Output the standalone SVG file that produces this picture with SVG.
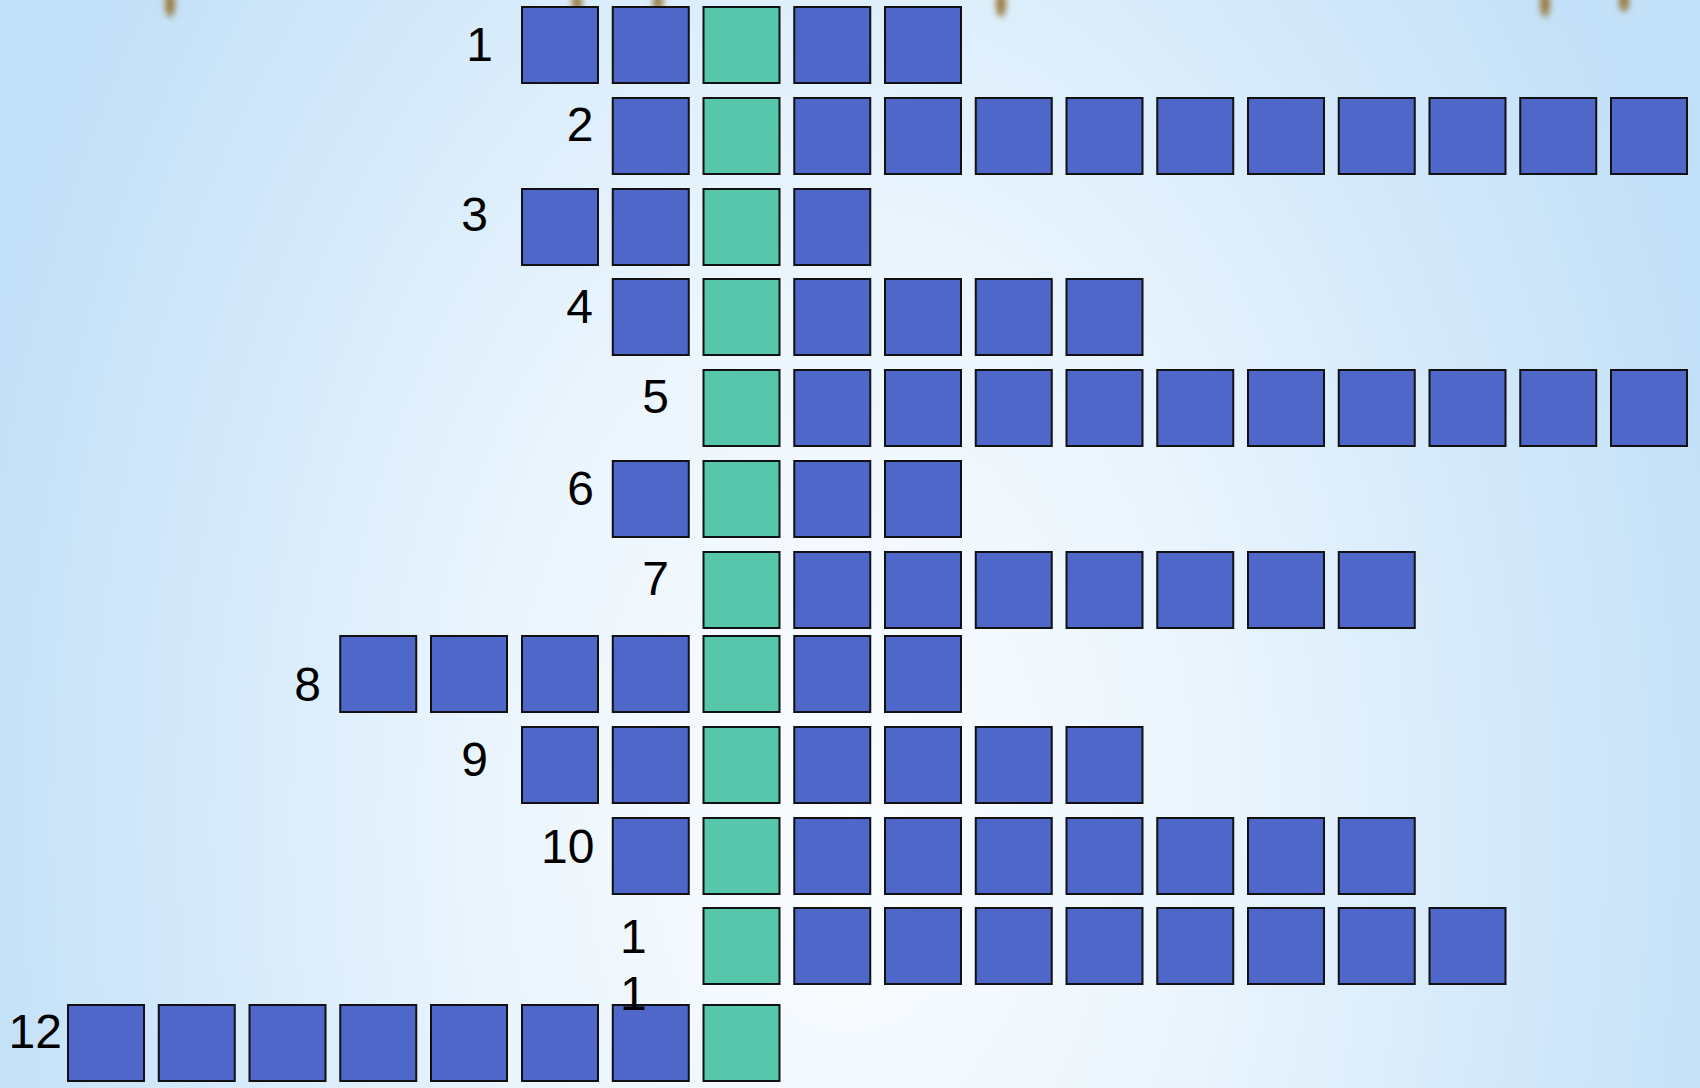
<svg xmlns="http://www.w3.org/2000/svg" width="1700" height="1088" viewBox="0 0 1700 1088">
<defs>
<radialGradient id="bg" cx="0" cy="0" r="1" gradientUnits="userSpaceOnUse" gradientTransform="translate(850 820) scale(900 1400)">
<stop offset="0" stop-color="#fbfdff"/>
<stop offset="0.4" stop-color="#ebf5fd"/>
<stop offset="1" stop-color="#c2e0f8"/>
</radialGradient>
<filter id="blur" x="-1" y="-1" width="3" height="3"><feGaussianBlur stdDeviation="3"/></filter>
<style>
.c{fill:#4f67c9;stroke:#111;stroke-width:2}
.g{fill:#56c7aa;stroke:#111;stroke-width:2}
.lb{font-family:"Liberation Sans",Arial,sans-serif;font-size:48px;fill:#000}
.m{fill:#9a7a3c;filter:url(#blur)}
</style>
</defs>
<rect width="1700" height="1088" fill="url(#bg)"/>
<g id="decor">
<ellipse class="m" cx="170" cy="4" rx="5" ry="13"/>
<ellipse class="m" cx="577" cy="2" rx="5" ry="10"/>
<ellipse class="m" cx="658" cy="2" rx="5" ry="10"/>
<ellipse class="m" cx="1001" cy="4" rx="5" ry="13"/>
<ellipse class="m" cx="1545" cy="4" rx="5" ry="13"/>
<ellipse class="m" cx="1624" cy="2" rx="5" ry="10"/>
</g>
<g id="connectors"/>
<g id="row1">
<rect class="c" x="522" y="7" width="76" height="76"/><rect class="c" x="612.75" y="7" width="76" height="76"/><rect class="g" x="703.5" y="7" width="76" height="76"/><rect class="c" x="794.25" y="7" width="76" height="76"/><rect class="c" x="885" y="7" width="76" height="76"/>
<text class="lb" x="493" y="61" text-anchor="end">1</text>
</g>
<g id="row2">
<rect class="c" x="612.75" y="98" width="76" height="76"/><rect class="g" x="703.5" y="98" width="76" height="76"/><rect class="c" x="794.25" y="98" width="76" height="76"/><rect class="c" x="885" y="98" width="76" height="76"/><rect class="c" x="975.75" y="98" width="76" height="76"/><rect class="c" x="1066.5" y="98" width="76" height="76"/><rect class="c" x="1157.25" y="98" width="76" height="76"/><rect class="c" x="1248" y="98" width="76" height="76"/><rect class="c" x="1338.75" y="98" width="76" height="76"/><rect class="c" x="1429.5" y="98" width="76" height="76"/><rect class="c" x="1520.25" y="98" width="76" height="76"/><rect class="c" x="1611" y="98" width="76" height="76"/>
<text class="lb" x="593.5" y="141" text-anchor="end">2</text>
</g>
<g id="row3">
<rect class="c" x="522" y="189" width="76" height="76"/><rect class="c" x="612.75" y="189" width="76" height="76"/><rect class="g" x="703.5" y="189" width="76" height="76"/><rect class="c" x="794.25" y="189" width="76" height="76"/>
<text class="lb" x="488" y="231" text-anchor="end">3</text>
</g>
<g id="row4">
<rect class="c" x="612.75" y="279" width="76" height="76"/><rect class="g" x="703.5" y="279" width="76" height="76"/><rect class="c" x="794.25" y="279" width="76" height="76"/><rect class="c" x="885" y="279" width="76" height="76"/><rect class="c" x="975.75" y="279" width="76" height="76"/><rect class="c" x="1066.5" y="279" width="76" height="76"/>
<text class="lb" x="593" y="323" text-anchor="end">4</text>
</g>
<g id="row5">
<rect class="g" x="703.5" y="370" width="76" height="76"/><rect class="c" x="794.25" y="370" width="76" height="76"/><rect class="c" x="885" y="370" width="76" height="76"/><rect class="c" x="975.75" y="370" width="76" height="76"/><rect class="c" x="1066.5" y="370" width="76" height="76"/><rect class="c" x="1157.25" y="370" width="76" height="76"/><rect class="c" x="1248" y="370" width="76" height="76"/><rect class="c" x="1338.75" y="370" width="76" height="76"/><rect class="c" x="1429.5" y="370" width="76" height="76"/><rect class="c" x="1520.25" y="370" width="76" height="76"/><rect class="c" x="1611" y="370" width="76" height="76"/>
<text class="lb" x="669" y="413" text-anchor="end">5</text>
</g>
<g id="row6">
<rect class="c" x="612.75" y="461" width="76" height="76"/><rect class="g" x="703.5" y="461" width="76" height="76"/><rect class="c" x="794.25" y="461" width="76" height="76"/><rect class="c" x="885" y="461" width="76" height="76"/>
<text class="lb" x="594" y="505" text-anchor="end">6</text>
</g>
<g id="row7">
<rect class="g" x="703.5" y="552" width="76" height="76"/><rect class="c" x="794.25" y="552" width="76" height="76"/><rect class="c" x="885" y="552" width="76" height="76"/><rect class="c" x="975.75" y="552" width="76" height="76"/><rect class="c" x="1066.5" y="552" width="76" height="76"/><rect class="c" x="1157.25" y="552" width="76" height="76"/><rect class="c" x="1248" y="552" width="76" height="76"/><rect class="c" x="1338.75" y="552" width="76" height="76"/>
<text class="lb" x="669" y="595" text-anchor="end">7</text>
</g>
<g id="row8">
<rect class="c" x="340.25" y="636" width="76" height="76"/><rect class="c" x="431" y="636" width="76" height="76"/><rect class="c" x="522" y="636" width="76" height="76"/><rect class="c" x="612.75" y="636" width="76" height="76"/><rect class="g" x="703.5" y="636" width="76" height="76"/><rect class="c" x="794.25" y="636" width="76" height="76"/><rect class="c" x="885" y="636" width="76" height="76"/>
<text class="lb" x="321" y="701" text-anchor="end">8</text>
</g>
<g id="row9">
<rect class="c" x="522" y="727" width="76" height="76"/><rect class="c" x="612.75" y="727" width="76" height="76"/><rect class="g" x="703.5" y="727" width="76" height="76"/><rect class="c" x="794.25" y="727" width="76" height="76"/><rect class="c" x="885" y="727" width="76" height="76"/><rect class="c" x="975.75" y="727" width="76" height="76"/><rect class="c" x="1066.5" y="727" width="76" height="76"/>
<text class="lb" x="488" y="776" text-anchor="end">9</text>
</g>
<g id="row10">
<rect class="c" x="612.75" y="818" width="76" height="76"/><rect class="g" x="703.5" y="818" width="76" height="76"/><rect class="c" x="794.25" y="818" width="76" height="76"/><rect class="c" x="885" y="818" width="76" height="76"/><rect class="c" x="975.75" y="818" width="76" height="76"/><rect class="c" x="1066.5" y="818" width="76" height="76"/><rect class="c" x="1157.25" y="818" width="76" height="76"/><rect class="c" x="1248" y="818" width="76" height="76"/><rect class="c" x="1338.75" y="818" width="76" height="76"/>
<text class="lb" x="594.5" y="863" text-anchor="end">10</text>
</g>
<g id="row11">
<rect class="g" x="703.5" y="908" width="76" height="76"/><rect class="c" x="794.25" y="908" width="76" height="76"/><rect class="c" x="885" y="908" width="76" height="76"/><rect class="c" x="975.75" y="908" width="76" height="76"/><rect class="c" x="1066.5" y="908" width="76" height="76"/><rect class="c" x="1157.25" y="908" width="76" height="76"/><rect class="c" x="1248" y="908" width="76" height="76"/><rect class="c" x="1338.75" y="908" width="76" height="76"/><rect class="c" x="1429.5" y="908" width="76" height="76"/>
</g>
<g id="row12">
<rect class="c" x="68" y="1005" width="76" height="76"/><rect class="c" x="158.75" y="1005" width="76" height="76"/><rect class="c" x="249.5" y="1005" width="76" height="76"/><rect class="c" x="340.25" y="1005" width="76" height="76"/><rect class="c" x="431" y="1005" width="76" height="76"/><rect class="c" x="522" y="1005" width="76" height="76"/><rect class="c" x="612.75" y="1005" width="76" height="76"/><rect class="g" x="703.5" y="1005" width="76" height="76"/>
<text class="lb" x="62" y="1048" text-anchor="end">12</text>
</g>
<g id="label11">
<text class="lb" x="620" y="953">1</text>
<text class="lb" x="620" y="1010">1</text>
</g>
</svg>
